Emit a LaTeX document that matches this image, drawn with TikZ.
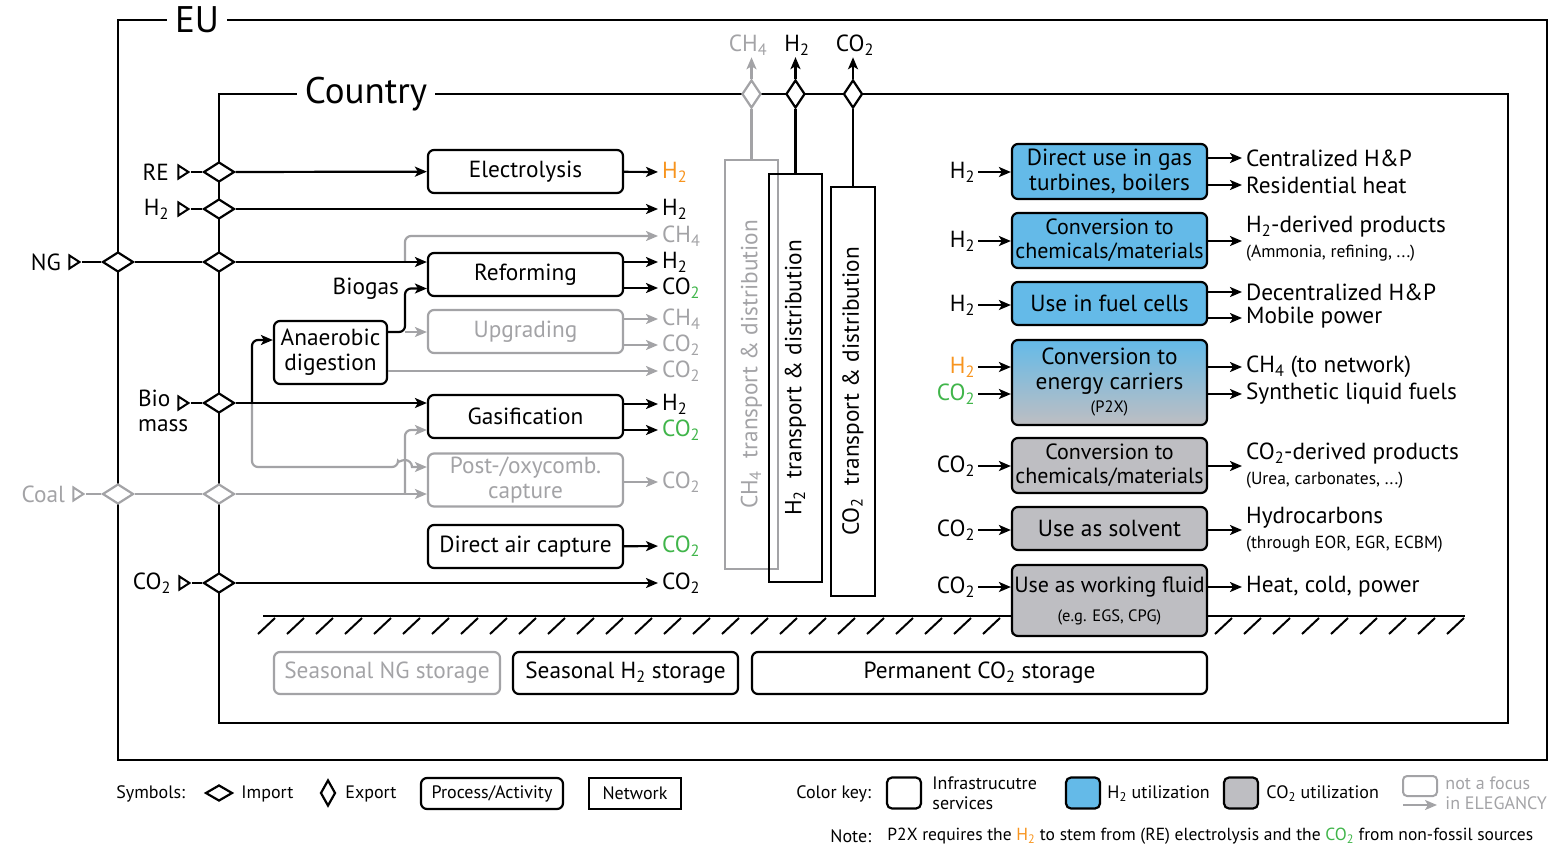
\documentclass[tikz,border=0pt]{standalone}
\usepackage{fontspec}
\setmainfont{PT Sans}
\usetikzlibrary{arrows.meta,positioning,shapes.geometric}

\definecolor{hblue}{RGB}{100,186,232}
\definecolor{cgray}{RGB}{190,190,194}
\definecolor{lgray}{RGB}{163,163,166}
\definecolor{horange}{RGB}{247,148,30}
\definecolor{cgreen}{RGB}{64,181,74}

\newcommand{\Htwo}{H\textsubscript{2}}
\newcommand{\COtwo}{CO\textsubscript{2}}
\newcommand{\CHfour}{CH\textsubscript{4}}
\newcommand{\mainfs}{\fontsize{23.3}{25}\selectfont}
\newcommand{\boxfs}{\fontsize{22}{24}\selectfont}
\newcommand{\smallfs}{\fontsize{16.5}{18}\selectfont}
\newcommand{\notefs}{\fontsize{17.5}{19}\selectfont}
\newcommand{\keyfs}{\fontsize{18}{19.5}\selectfont}
\newcommand{\titlefs}{\fontsize{37}{40}\selectfont}

\begin{document}
\begin{tikzpicture}[x=1pt,y=-1pt,>={Stealth[length=12pt,width=10pt,inset=3pt]},
  line width=2.2pt,font=\mainfs,
  proc/.style={draw,rounded corners=6pt,minimum width=195pt,minimum height=43pt,
    align=center,inner sep=1pt},
  gproc/.style={proc,draw=lgray,text=lgray},
  h2use/.style={proc,fill=hblue},
  co2use/.style={proc,fill=cgray},
  net/.style={draw,rotate=90,inner sep=0pt},
  imp/.style={diamond,draw,fill=white,minimum width=31pt,minimum height=20pt,inner sep=0pt},
  expo/.style={diamond,draw,fill=white,minimum width=19pt,minimum height=28pt,inner sep=0pt},
  src/.style={isosceles triangle,isosceles triangle stretches,draw,minimum width=13pt,
    minimum height=10pt,inner sep=0pt,line width=2pt},
  outl/.style={anchor=west,inner sep=3pt},
  inl/.style={anchor=east,inner sep=2pt},
  flow/.style={->},
  key/.style={font=\keyfs}]

\useasboundingbox (0,0) rectangle (1563,847);

% EU and country frames
\draw[line width=2.5pt] (118,20) rectangle (1547,760);
\node[fill=white,font=\titlefs,inner xsep=8pt,inner ysep=0pt] (eu) at (197,20) {EU};
\draw[line width=2.5pt] (219,94) rectangle (1508,723);
\node[fill=white,font=\titlefs,inner xsep=8pt,inner ysep=0pt] (country) at (366,94) {Country};

% imports
\node[imp] (reD) at (219,172) {};
\node[src] (reT) at (182,172) {};
\node[inl] (reL) at (172,172) {RE};
\node[imp] (hyD) at (219,209) {};
\node[src] (hyT) at (182,209) {};
\node[inl] (hyL) at (172,209) {\Htwo};
\node[imp] (ngD1) at (118,262) {};
\node[imp] (ngD2) at (219,262) {};
\node[src] (ngT) at (73,262) {};
\node[inl] (ngL) at (64,262) {NG};
\node[imp] (bioD) at (219,403) {};
\node[src] (bioT) at (182,403) {};
\node[anchor=north west,inner sep=0pt,align=left] (bioL) at (137,389) {Bio\\mass};
\node[imp,draw=lgray] (coalD1) at (118,494) {};
\node[imp,draw=lgray] (coalD2) at (219,494) {};
\node[src,draw=lgray] (coalT) at (77,494) {};
\node[inl,text=lgray] (coalL) at (68,494) {Coal};
\node[imp] (ctD) at (219,583) {};
\node[src] (ctT) at (183,583) {};
\node[inl] (ctL) at (174,583) {\COtwo};

\draw (reT) -- (reD);
\draw (hyT) -- (hyD);
\draw (ngT) -- (ngD1) (ngD1) -- (ngD2);
\draw (bioT) -- (bioD);
\draw[lgray] (coalT) -- (coalD1) (coalD1) -- (coalD2);
\draw (ctT) -- (ctD);

% processes
\node[proc] (elec) at (525.5,171.5) {Electrolysis};
\node[proc] (refm) at (525.5,274.5) {Reforming};
\node[gproc] (upg) at (525.5,331.5) {Upgrading};
\node[proc] (gasf) at (525.5,416.5) {Gasification};
\node[gproc,minimum height=53pt] (post) at (525.5,480) {Post-/oxycomb.\\capture};
\node[proc] (dac) at (525.5,546.5) {Direct air capture};
\node[proc,minimum width=113pt,minimum height=63pt] (ad) at (330.5,352.5) {Anaerobic\\digestion};
\node[inl] (bgsL) at (402,289) {Biogas};

% process outputs
\node[outl,text=horange] (elecH) at (658,172) {\Htwo};
\node[outl] (hyO) at (658,209) {\Htwo};
\node[outl,text=lgray] (ngM) at (658,236) {\CHfour};
\node[outl] (refmH) at (658,262) {\Htwo};
\node[outl] (refmC) at (658,288) {CO\textsubscript{\textcolor{cgreen}{2}}};
\node[outl,text=lgray] (upgM) at (658,319) {\CHfour};
\node[outl,text=lgray] (upgC) at (658,345) {\COtwo};
\node[outl,text=lgray] (adC) at (658,371) {\COtwo};
\node[outl] (gasfH) at (658,404) {\Htwo};
\node[outl,text=cgreen] (gasfC) at (658,430) {\COtwo};
\node[outl,text=lgray] (postC) at (658,482) {\COtwo};
\node[outl,text=cgreen] (dacC) at (658,546) {\COtwo};
\node[outl] (ctO) at (658,583) {\COtwo};

% gray routes
\coordinate (ngb) at (405,262);
\coordinate (bgs) at (405,332);
\coordinate (bmb) at (252,403);
\coordinate (hop) at (398,467);
\coordinate (cb) at (405,494);
\draw[flow,lgray,rounded corners=6pt] (ngb) |- (ngM.west);
\draw[flow,lgray] (bgs) -- (bgs -| upg.west);
\draw[flow,lgray] (ad.east |- adC) -- (adC.west);
\draw[flow,lgray] (bmb) [rounded corners=6pt] |- (hop) [sharp corners]
  arc[start angle=180,end angle=0,radius=7pt] -- ([yshift=13pt]post.west);
\draw[flow,lgray,rounded corners=6pt] (cb) |- ([yshift=-13.5pt]gasf.west);
\draw[flow,lgray] (coalD2) -- ([yshift=-14pt]post.west);
\draw[flow,lgray] (upgM.west -| upg.east) -- (upgM.west);
\draw[flow,lgray] (upgC.west -| upg.east) -- (upgC.west);
\draw[flow,lgray] (postC.west -| post.east) -- (postC.west);

% black routes
\draw[flow] (reD) -- (elec);
\draw[flow] (hyD) -- (hyO);
\draw[flow] (ngD2) -- (ngD2 -| refm.west);
\draw[flow,rounded corners=6pt] (ad.east |- bgs) -- (bgs) |- ([yshift=-14pt]refm.west);
\draw[flow,rounded corners=6pt] (bmb) |- ([yshift=12.5pt]ad.west);
\draw[flow] (bioD) -- (bioD -| gasf.west);
\draw[flow] (ctD) -- (ctO);
\draw[flow] (elec) -- (elecH);
\draw[flow] (refmH.west -| refm.east) -- (refmH.west);
\draw[flow] (refmC.west -| refm.east) -- (refmC.west);
\draw[flow] (gasfH.west -| gasf.east) -- (gasfH.west);
\draw[flow] (gasfC.west -| gasf.east) -- (gasfC.west);
\draw[flow] (dac) -- (dacC);

% networks and exports
\node[net,draw=lgray,text=lgray,minimum width=409pt,minimum height=53pt] (ch4net) at (751.5,364.5) {\CHfour\ \ transport \& distribution};
\node[net,minimum width=408pt,minimum height=53pt] (h2net) at (795.5,378) {\Htwo\ \ transport \& distribution};
\node[net,minimum width=409pt,minimum height=44pt] (co2net) at (853,391.5) {\COtwo\ \ transport \& distribution};
\node[expo,draw=lgray] (ch4X) at (751.5,94) {};
\node[expo] (h2X) at (795.5,94) {};
\node[expo] (co2X) at (853,94) {};
\node[text=lgray,inner sep=1pt] (ch4E) at (748,45) {\CHfour};
\node[inner sep=1pt] (h2E) at (797,45) {\Htwo};
\node[inner sep=1pt] (co2E) at (855,45) {\COtwo};
\draw[lgray] (ch4net.east) -- (ch4X);
\draw (h2net.east) -- (h2X);
\draw (co2net.east) -- (co2X);
\draw[flow,lgray] (ch4X) -- (ch4X |- ch4E.south);
\draw[flow] (h2X) -- (h2X |- h2E.south);
\draw[flow] (co2X) -- (co2X |- co2E.south);

% underground
\draw (263,616) -- (1465,616);
\foreach \x in {258,287,...,1450}
  \draw[line width=2pt] (\x,634) -- ++(17,-16);
\node[gproc,minimum width=226pt,minimum height=42pt] (ngst) at (387,673) {Seasonal NG storage};
\node[proc,minimum width=225pt,minimum height=42pt] (h2st) at (625.5,673) {Seasonal \Htwo\ storage};
\node[proc,minimum width=455pt,minimum height=42pt] (co2st) at (979.5,673) {Permanent \COtwo\ storage};

% utilization
\node[h2use,minimum height=55pt] (dgt) at (1109.5,171.5) {Direct use in gas\\turbines, boilers};
\node[h2use,font=\boxfs,minimum height=55pt] (hchem) at (1109.5,240.5) {Conversion to\\chemicals/materials};
\node[h2use] (fcell) at (1109.5,303.5) {Use in fuel cells};
\node[proc,top color=hblue,bottom color=cgray,minimum height=85pt] (ptx) at (1109.5,382.5) {Conversion to\\energy carriers\\[-2pt]{\smallfs (P2X)}};
\node[co2use,font=\boxfs,minimum height=55pt] (cchem) at (1109.5,465.5) {Conversion to\\chemicals/materials};
\node[co2use] (solv) at (1109.5,528.5) {Use as solvent};
\node[co2use,font=\boxfs,minimum height=71pt] (wflu) at (1109.5,600.5) {Use as working fluid\\[5pt]{\smallfs (e.g. EGS, CPG)}};

\node[inl] (dgtI) at (978,172) {\Htwo};
\node[inl] (hchemI) at (978,241) {\Htwo};
\node[inl] (fcellI) at (978,305) {\Htwo};
\node[inl,text=horange] (ptxI1) at (978,367) {\Htwo};
\node[inl,text=cgreen] (ptxI2) at (978,394) {\COtwo};
\node[inl] (cchemI) at (978,466) {\COtwo};
\node[inl] (solvI) at (978,530) {\COtwo};
\node[inl] (wfluI) at (978,587) {\COtwo};

\node[outl] (dgtA) at (1242,158) {Centralized H\&P};
\node[outl] (dgtB) at (1242,185) {Residential heat};
\node[outl,align=left] (hchemA) at (1242,239) {\Htwo-derived products\\{\notefs (Ammonia, refining, ...)}};
\node[outl] (fcellA) at (1242,292) {Decentralized H\&P};
\node[outl] (fcellB) at (1242,318) {Mobile power};
\node[outl] (ptxA) at (1242,367) {\CHfour\ (to network)};
\node[outl] (ptxB) at (1242,394) {Synthetic liquid fuels};
\node[outl,align=left] (cchemA) at (1242,466) {\COtwo-derived products\\{\notefs (Urea, carbonates, ...)}};
\node[outl,align=left] (solvA) at (1242,530) {Hydrocarbons\\{\notefs (through EOR, EGR, ECBM)}};
\node[outl] (wfluA) at (1242,587) {Heat, cold, power};

\draw[flow] (dgtI.east) -- (dgtI.east -| dgt.west);
\draw[flow] (hchemI.east) -- (hchemI.east -| hchem.west);
\draw[flow] (fcellI.east) -- (fcellI.east -| fcell.west);
\draw[flow] (ptxI1.east) -- (ptxI1.east -| ptx.west);
\draw[flow] (ptxI2.east) -- (ptxI2.east -| ptx.west);
\draw[flow] (cchemI.east) -- (cchemI.east -| cchem.west);
\draw[flow] (solvI.east) -- (solvI.east -| solv.west);
\draw[flow] (wfluI.east) -- (wfluI.east -| wflu.west);
\draw[flow] (dgtA.west -| dgt.east) -- (dgtA.west);
\draw[flow] (dgtB.west -| dgt.east) -- (dgtB.west);
\draw[flow] (hchemI -| hchem.east) -- (hchemI -| hchemA.west);
\draw[flow] (fcellA.west -| fcell.east) -- (fcellA.west);
\draw[flow] (fcellB.west -| fcell.east) -- (fcellB.west);
\draw[flow] (ptxA.west -| ptx.east) -- (ptxA.west);
\draw[flow] (ptxB.west -| ptx.east) -- (ptxB.west);
\draw[flow] (cchemI -| cchem.east) -- (cchemI -| cchemA.west);
\draw[flow] (solvI -| solv.east) -- (solvI -| solvA.west);
\draw[flow] (wfluA.west -| wflu.east) -- (wfluA.west);

% legend
\node[key,anchor=west] (sym) at (112,794) {Symbols:};
\node[imp,minimum width=27pt,minimum height=16pt] (kimp) at (219,793) {};
\node[key,anchor=west] (kimpL) at (237,794) {Import};
\node[expo,minimum width=15pt,minimum height=26pt] (kexp) at (328,793) {};
\node[key,anchor=west] (kexpL) at (341,794) {Export};
\node[proc,key,minimum width=142pt,minimum height=31pt] (kproc) at (492,793.5) {Process/Activity};
\node[draw,key,minimum width=92pt,minimum height=31pt] (knet) at (635,793.5) {Network};
\node[key,anchor=west] (ckey) at (792,794) {Color key:};
\node[proc,minimum width=34pt,minimum height=31pt,rounded corners=5pt] (kinf) at (904,793) {};
\node[key,anchor=west,align=left] (kinfL) at (928,793) {Infrastrucutre\\services};
\node[h2use,minimum width=34pt,minimum height=31pt,rounded corners=5pt] (kh2) at (1083,793) {};
\node[key,anchor=west] (kh2L) at (1103,794) {\Htwo\ utilization};
\node[co2use,minimum width=34pt,minimum height=31pt,rounded corners=5pt] (kco2) at (1241,793) {};
\node[key,anchor=west] (kco2L) at (1262,794) {\COtwo\ utilization};
\node[gproc,minimum width=34pt,minimum height=20pt,rounded corners=4pt,line width=2pt] (kfoc) at (1420,786) {};
\coordinate (kfa) at (1403,805);
\coordinate (kfb) at (1437,805);
\draw[flow,lgray,line width=2pt] (kfa) -- (kfb);
\node[key,anchor=west,align=left,text=lgray] (kfocL) at (1441,793) {not a focus\\in ELEGANCY};
\node[key,anchor=west] (noteL) at (826,836) {Note:};
\node[anchor=west,font=\notefs] (note) at (883,836) {P2X requires the \textcolor{horange}{\Htwo} to stem from (RE) electrolysis and the \textcolor{cgreen}{\COtwo} from non-fossil sources};

\end{tikzpicture}
\end{document}
